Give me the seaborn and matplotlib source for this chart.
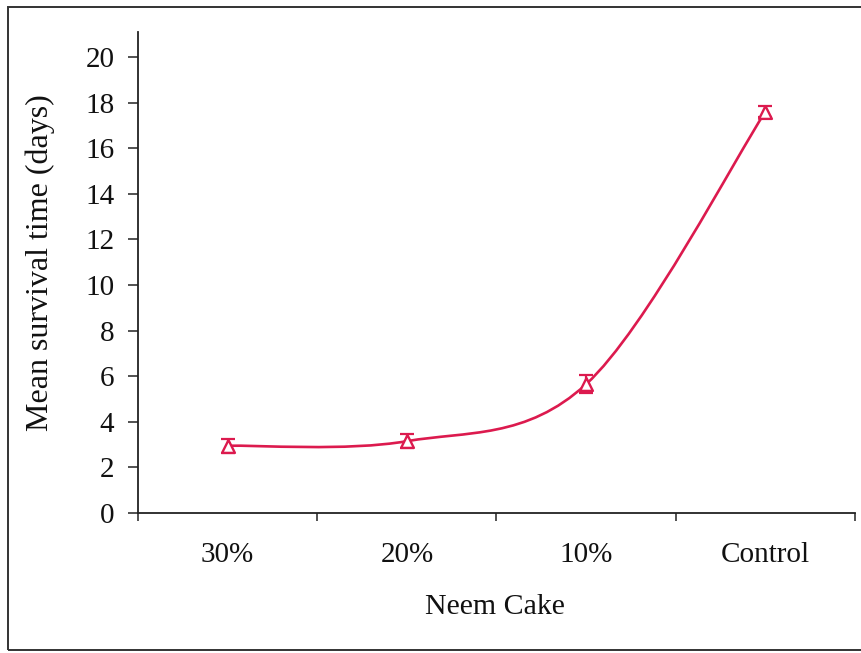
import numpy as np
import matplotlib
matplotlib.use("Agg")
import matplotlib.pyplot as plt
from matplotlib.path import Path
from matplotlib.patches import PathPatch, Rectangle
import seaborn as sns
import pandas as pd

# Neem cake treatment levels and mean survival time (days) with error
categories = ["30%", "20%", "10%", "Control"]
mean_survival = [2.95, 3.15, 5.65, 17.6]
error = [0.3, 0.3, 0.4, 0.25]

y_ticks = list(range(0, 21, 2))

sns.set_theme(style="white")
plt.rcParams["font.family"] = ["Liberation Serif", "DejaVu Serif"]

LINE = "#DC1A4E"
W, H, DPI = 862, 653, 100

fig = plt.figure(figsize=(W / DPI, H / DPI), dpi=DPI)
ax = fig.add_axes([138 / W, 1 - 513 / H, (855 - 138) / W, (513 - 32) / H])

df = pd.DataFrame({"pos": np.arange(len(categories)), "mean": mean_survival, "err": error})

# Smoothed connecting curve (cardinal spline through the category means)
xs = df["pos"].to_numpy(dtype=float)
ys = df["mean"].to_numpy(dtype=float)
pts = np.column_stack([xs, ys])
ext = np.vstack([pts[0], pts, pts[-1]])
verts = [tuple(pts[0])]
codes = [Path.MOVETO]
for i in range(len(pts) - 1):
    p0, p1, p2, p3 = ext[i], ext[i + 1], ext[i + 2], ext[i + 3]
    c1 = p1 + (p2 - p0) / 6.0
    c2 = p2 - (p3 - p1) / 6.0
    verts += [tuple(c1), tuple(c2), tuple(p2)]
    codes += [Path.CURVE4] * 3
ax.add_patch(PathPatch(Path(verts, codes), facecolor="none", edgecolor=LINE, lw=1.9, zorder=2))

# Error bars and open triangle markers
ax.errorbar(df["pos"], df["mean"], yerr=df["err"], fmt="none", ecolor=LINE,
            elinewidth=1.6, capsize=4.8, capthick=1.6, zorder=3)
sns.scatterplot(data=df, x="pos", y="mean", ax=ax, marker="^", s=85,
                facecolors="white", edgecolor=LINE, linewidth=1.7, zorder=4, legend=False)

ax.set_xlim(-0.5, len(categories) - 0.5)
ax.set_ylim(0, 21.1)
ax.set_yticks(y_ticks)
ax.set_yticklabels([str(t) for t in y_ticks])
ax.set_xticks(np.arange(len(categories)))
ax.set_xticklabels(categories)
ax.set_xticks(np.arange(len(categories) + 1) - 0.5, minor=True)
ax.set_xlabel("")
ax.set_ylabel("")

for side in ["top", "right"]:
    ax.spines[side].set_visible(False)
for side in ["left", "bottom"]:
    ax.spines[side].set_color("#222222")
    ax.spines[side].set_linewidth(1.3)

ax.tick_params(axis="y", which="major", direction="out", length=7, width=1.1,
               color="#222222", labelsize=21, pad=10, left=True)
ax.tick_params(axis="x", which="major", length=0, labelsize=21, pad=21)
ax.tick_params(axis="x", which="minor", direction="out", length=6, width=1.1,
               color="#222222", bottom=True)
for lbl in ax.get_xticklabels() + ax.get_yticklabels():
    lbl.set_color("#111111")

fig.text(495 / W, 1 - 607 / H, "Neem Cake", ha="center", va="center",
         fontsize=21.5, color="#111111")
fig.text(40 / W, 1 - 263 / H, "Mean survival time (days)", ha="center", va="center",
         rotation=90, fontsize=23, color="#111111")

# Outer chart border
fig.patches.append(Rectangle((8 / W, 1 - 650 / H), 1.0, (650 - 7) / H,
                             transform=fig.transFigure, fill=False,
                             edgecolor="#333333", lw=1.4))

fig.savefig("out.png", dpi=DPI)
